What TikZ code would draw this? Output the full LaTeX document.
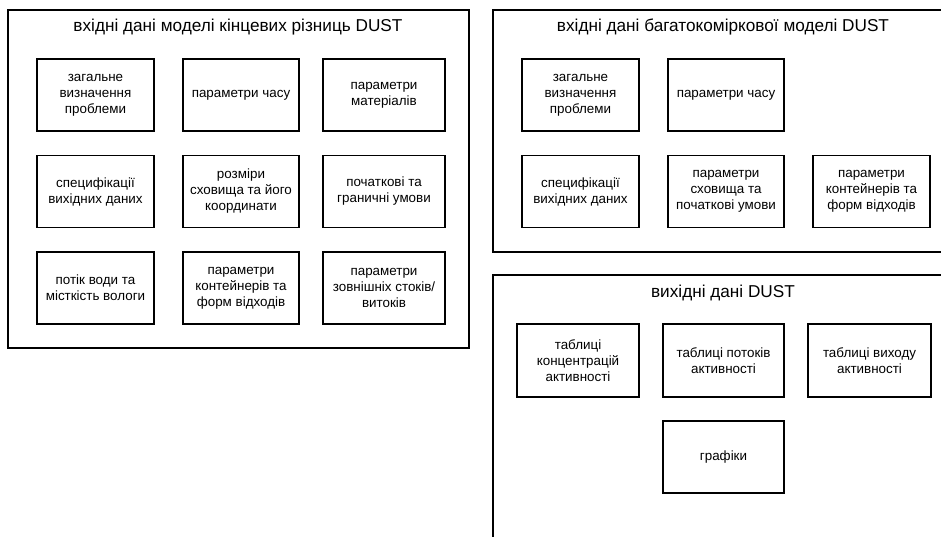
\documentclass[tikz,border=0pt]{standalone}
\usepackage{fontspec}
\setmainfont{Liberation Sans}
\begin{document}
\begin{tikzpicture}[x=1pt,y=-1pt,
  container/.style={draw, line width=1.1pt, inner sep=0pt},
  item/.style={draw, line width=1.1pt, inner sep=0pt, align=center,
    minimum height=72pt, font=\fontsize{13.4}{16}\selectfont},
  title/.style={font=\fontsize{17.2}{20}\selectfont, inner sep=0pt}]
\useasboundingbox (0,0) rectangle (941,536);
\clip (0,0) rectangle (941,536);
% containers
\node[container, minimum width=461pt, minimum height=338pt] (c1) at (238.5,179) {};
\node[container, minimum width=470pt, minimum height=242pt] (c2) at (728,131) {};
\node[container, minimum width=470pt, minimum height=290pt] (c3) at (728,420) {};
\node[title] (t1) at (238,27) {вхідні дані моделі кінцевих різниць DUST};
\node[title] (t2) at (723,27) {вхідні дані багатокоміркової моделі DUST};
\node[title] (t3) at (723,293) {вихідні дані DUST};
% left container
\node[item, minimum width=117pt] (a11) at (95.5,95) {загальне\\визначення\\проблеми};
\node[item, minimum width=116pt] (a12) at (241,95) {параметри часу};
\node[item, minimum width=122pt] (a13) at (384,95) {параметри\\матеріалів};
\node[item, minimum width=117pt] (a21) at (95.5,191.5) {специфікації\\вихідних даних};
\node[item, minimum width=116pt] (a22) at (241,191.5) {розміри\\сховища та його\\координати};
\node[item, minimum width=122pt] (a23) at (384,191.5) {початкові та\\граничні умови};
\node[item, minimum width=117pt] (a31) at (95.5,288) {потік води та\\місткість вологи};
\node[item, minimum width=116pt] (a32) at (241,288) {параметри\\контейнерів та\\форм відходів};
\node[item, minimum width=122pt] (a33) at (384,288) {параметри\\зовнішніх стоків/\\витоків};
% right top container
\node[item, minimum width=117pt] (b11) at (580.5,95) {загальне\\визначення\\проблеми};
\node[item, minimum width=116pt] (b12) at (726,95) {параметри часу};
\node[item, minimum width=117pt] (b21) at (580.5,191.5) {специфікації\\вихідних даних};
\node[item, minimum width=116pt] (b22) at (726,191.5) {параметри\\сховища та\\початкові умови};
\node[item, minimum width=117pt] (b23) at (871.5,191.5) {параметри\\контейнерів та\\форм відходів};
% bottom right container
\node[item, minimum width=122pt, minimum height=73pt] (d11) at (578,360.5) {таблиці\\концентрацій\\активності};
\node[item, minimum width=121pt, minimum height=73pt] (d12) at (723.5,360.5) {таблиці потоків\\активності};
\node[item, minimum width=123pt, minimum height=73pt] (d13) at (869.5,360.5) {таблиці виходу\\активності};
\node[item, minimum width=121pt] (d21) at (723.5,457) {графіки};
\end{tikzpicture}
\end{document}
